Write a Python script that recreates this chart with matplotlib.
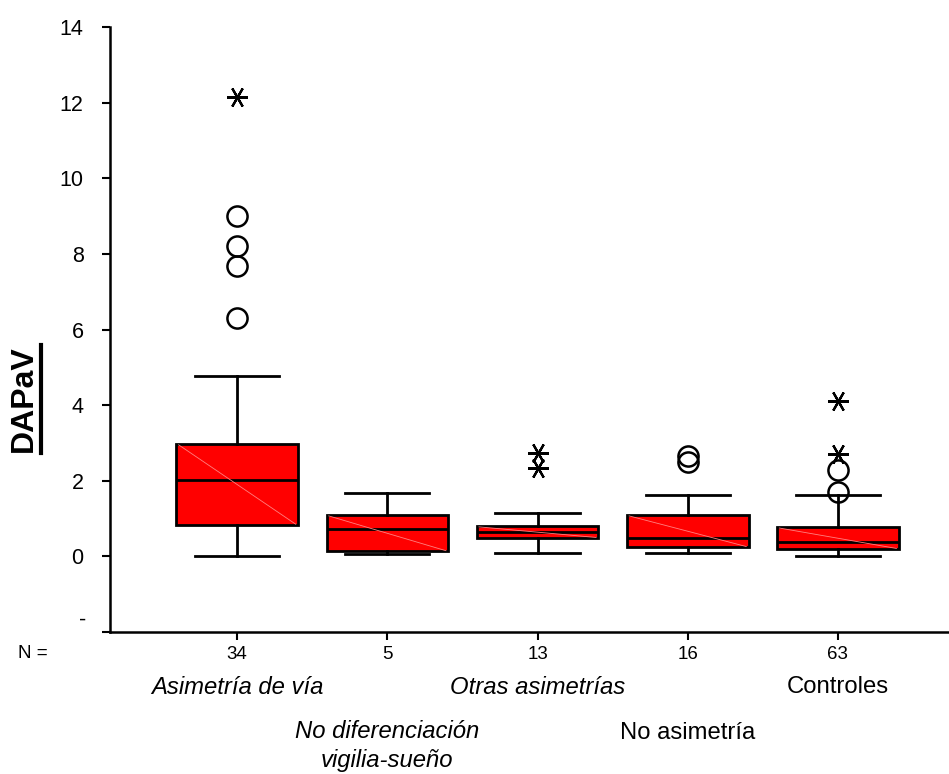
import matplotlib.pyplot as plt
from matplotlib.lines import Line2D

plt.rcParams['font.family'] = ['Liberation Sans', 'DejaVu Sans']

# data
groups = ["Asimetría de vía", "No diferenciación\nvigilia-sueño", "Otras asimetrías",
          "No asimetría", "Controles"]
group_italic = [True, True, True, False, False]
group_label_y = [687, 746, 687, 733, 687]   # pixel rows of the staggered names
n_values = [34, 5, 13, 16, 63]
whis_lo = [0.0, 0.05, 0.10, 0.10, 0.0]
q1 = [0.83, 0.13, 0.48, 0.24, 0.19]
median = [2.03, 0.72, 0.64, 0.48, 0.37]
q3 = [2.97, 1.09, 0.80, 1.09, 0.77]
whis_hi = [4.77, 1.67, 1.14, 1.62, 1.62]
outliers = [[9.0, 8.2, 7.67, 6.31], [], [], [2.65, 2.5], [2.28, 1.7]]
extremes = [[12.15], [], [2.73, 2.33], [], [4.11, 2.7]]

W, H = 949, 774
fig = plt.figure(figsize=(W / 100, H / 100), dpi=100)
ax = fig.add_axes([110 / W, 1 - 632 / H, 1 - 110 / W, (632 - 27) / H])

positions = list(range(1, len(groups) + 1))
stats = []
for i in range(len(groups)):
    stats.append(dict(med=median[i], q1=q1[i], q3=q3[i], whislo=whis_lo[i],
                      whishi=whis_hi[i], fliers=outliers[i]))

ax.bxp(stats, positions=positions, widths=0.81, patch_artist=True,
       boxprops=dict(facecolor='#ff0000', edgecolor='black', linewidth=2),
       medianprops=dict(color='black', linewidth=2),
       whiskerprops=dict(color='black', linewidth=2),
       capprops=dict(color='black', linewidth=2),
       capwidths=0.56,
       flierprops=dict(marker='o', markersize=14.5, markerfacecolor='none',
                       markeredgecolor='black', markeredgewidth=1.8))

# faint diagonal inside each box (SPSS rendering artefact)
for i, p in enumerate(positions):
    ax.plot([p - 0.39, p + 0.39], [q3[i] - 0.02, q1[i] + 0.02], color='#ff8080',
            linewidth=0.6, zorder=2.5)

# extreme values as asterisks
for i, p in enumerate(positions):
    if extremes[i]:
        ax.plot([p] * len(extremes[i]), extremes[i], linestyle='none',
                marker=(6, 2, 90), markersize=15, markeredgewidth=1.6,
                color='black')

ax.set_xlim(0.153, 5.74)
ax.set_ylim(-2, 14)
ax.set_yticks([-2, 0, 2, 4, 6, 8, 10, 12, 14])
ax.set_yticklabels(['', '0', '2', '4', '6', '8', '10', '12', '14'], fontsize=15.5)
ax.set_xticks(positions)
ax.set_xticklabels([str(n) for n in n_values], fontsize=13.5)
ax.tick_params(axis='both', direction='out', length=6, width=1.5, colors='black')
ax.tick_params(axis='y', pad=13)
ax.tick_params(axis='x', pad=4)

# the lowest tick label shows only a dash, sitting a little above the axis
ax.text(86 / W, 1 - 620 / H, '-', fontsize=15.5, ha='right', va='center',
        transform=fig.transFigure)

for s in ['top', 'right']:
    ax.spines[s].set_visible(False)
for s in ['left', 'bottom']:
    ax.spines[s].set_linewidth(1.8)

fig.text(18 / W, 1 - 653 / H, 'N =', fontsize=13.5, va='center', ha='left')

# category names, staggered
for i, p in enumerate(positions):
    xf = fig.transFigure.inverted().transform(ax.transData.transform((p, 0)))[0]
    fig.text(xf, 1 - group_label_y[i] / H, groups[i], fontsize=17.2,
             style='italic' if group_italic[i] else 'normal',
             ha='center', va='center', linespacing=1.3)

# y label, bold and underlined
fig.text(24 / W, 1 - 399 / H, 'DAPaV', fontsize=23, fontweight='bold',
         rotation=90, ha='center', va='center')
fig.add_artist(Line2D([41 / W, 41 / W], [1 - 453 / H, 1 - 345 / H],
                      color='black', linewidth=3, transform=fig.transFigure))

plt.savefig('out.png', dpi=100)
